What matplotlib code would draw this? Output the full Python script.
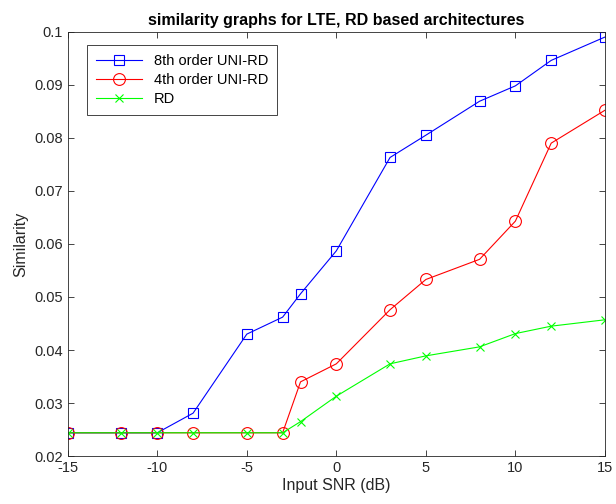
import matplotlib.pyplot as plt
import numpy as np

plt.rcParams['font.family'] = ['Liberation Sans', 'DejaVu Sans']
plt.rcParams['axes.unicode_minus'] = False

# SNR points (dB)
snr = [-15, -12, -10, -8, -5, -3, -2, 0, 3, 5, 8, 10, 12, 15]

# similarity values
uni8 = [0.0244, 0.0244, 0.0244, 0.0281, 0.0430, 0.0462, 0.0506, 0.0587,
        0.0763, 0.0805, 0.0869, 0.0898, 0.0946, 0.0990]
uni4 = [0.0244, 0.0244, 0.0244, 0.0244, 0.0244, 0.0244, 0.0340, 0.0374,
        0.0476, 0.0533, 0.0571, 0.0643, 0.0790, 0.0852]
rd = [0.0244, 0.0244, 0.0244, 0.0244, 0.0244, 0.0244, 0.0265, 0.0313,
      0.0374, 0.0389, 0.0406, 0.0431, 0.0445, 0.0457]

fig = plt.figure(figsize=(6.16, 5.04), dpi=100)
ax = fig.add_axes([0.110, 0.095, 0.872, 0.842])

ax.plot(snr, uni8, color='b', lw=0.8, marker='s', ms=7, mfc='none', mew=0.8,
        label='8th order UNI-RD')
ax.plot(snr, uni4, color='r', lw=0.8, marker='o', ms=8.5, mfc='none', mew=0.8,
        label='4th order UNI-RD')
ax.plot(snr, rd, color='#00ff00', lw=0.8, marker='x', ms=6, mew=0.8,
        label='RD')

ax.set_xlim(-15, 15)
ax.set_ylim(0.02, 0.1)
ax.set_xticks(np.arange(-15, 16, 5))
ax.set_yticks(np.arange(0.02, 0.101, 0.01))
ax.set_yticklabels(['0.02', '0.03', '0.04', '0.05', '0.06', '0.07', '0.08', '0.09', '0.1'])
ax.tick_params(direction='in', top=True, right=True, labelsize=10.5, length=4,
               width=0.6, colors='#262626')
for s in ax.spines.values():
    s.set_linewidth(0.6)
    s.set_color('#262626')

ax.set_xlabel('Input SNR (dB)', fontsize=11.5, color='#262626', labelpad=2)
ax.set_ylabel('Similarity', fontsize=11.5, color='#262626', labelpad=4)
ax.set_title('similarity graphs for LTE, RD based architectures',
             fontsize=11.5, fontweight='bold', pad=5)

leg = ax.legend(loc='upper left', bbox_to_anchor=(0.022, 0.985), fontsize=10.5,
                fancybox=False, edgecolor='#262626', framealpha=1,
                handlelength=3.2, borderpad=0.6, labelspacing=0.35)
leg.get_frame().set_linewidth(0.6)

fig.savefig('out.png', dpi=100)
